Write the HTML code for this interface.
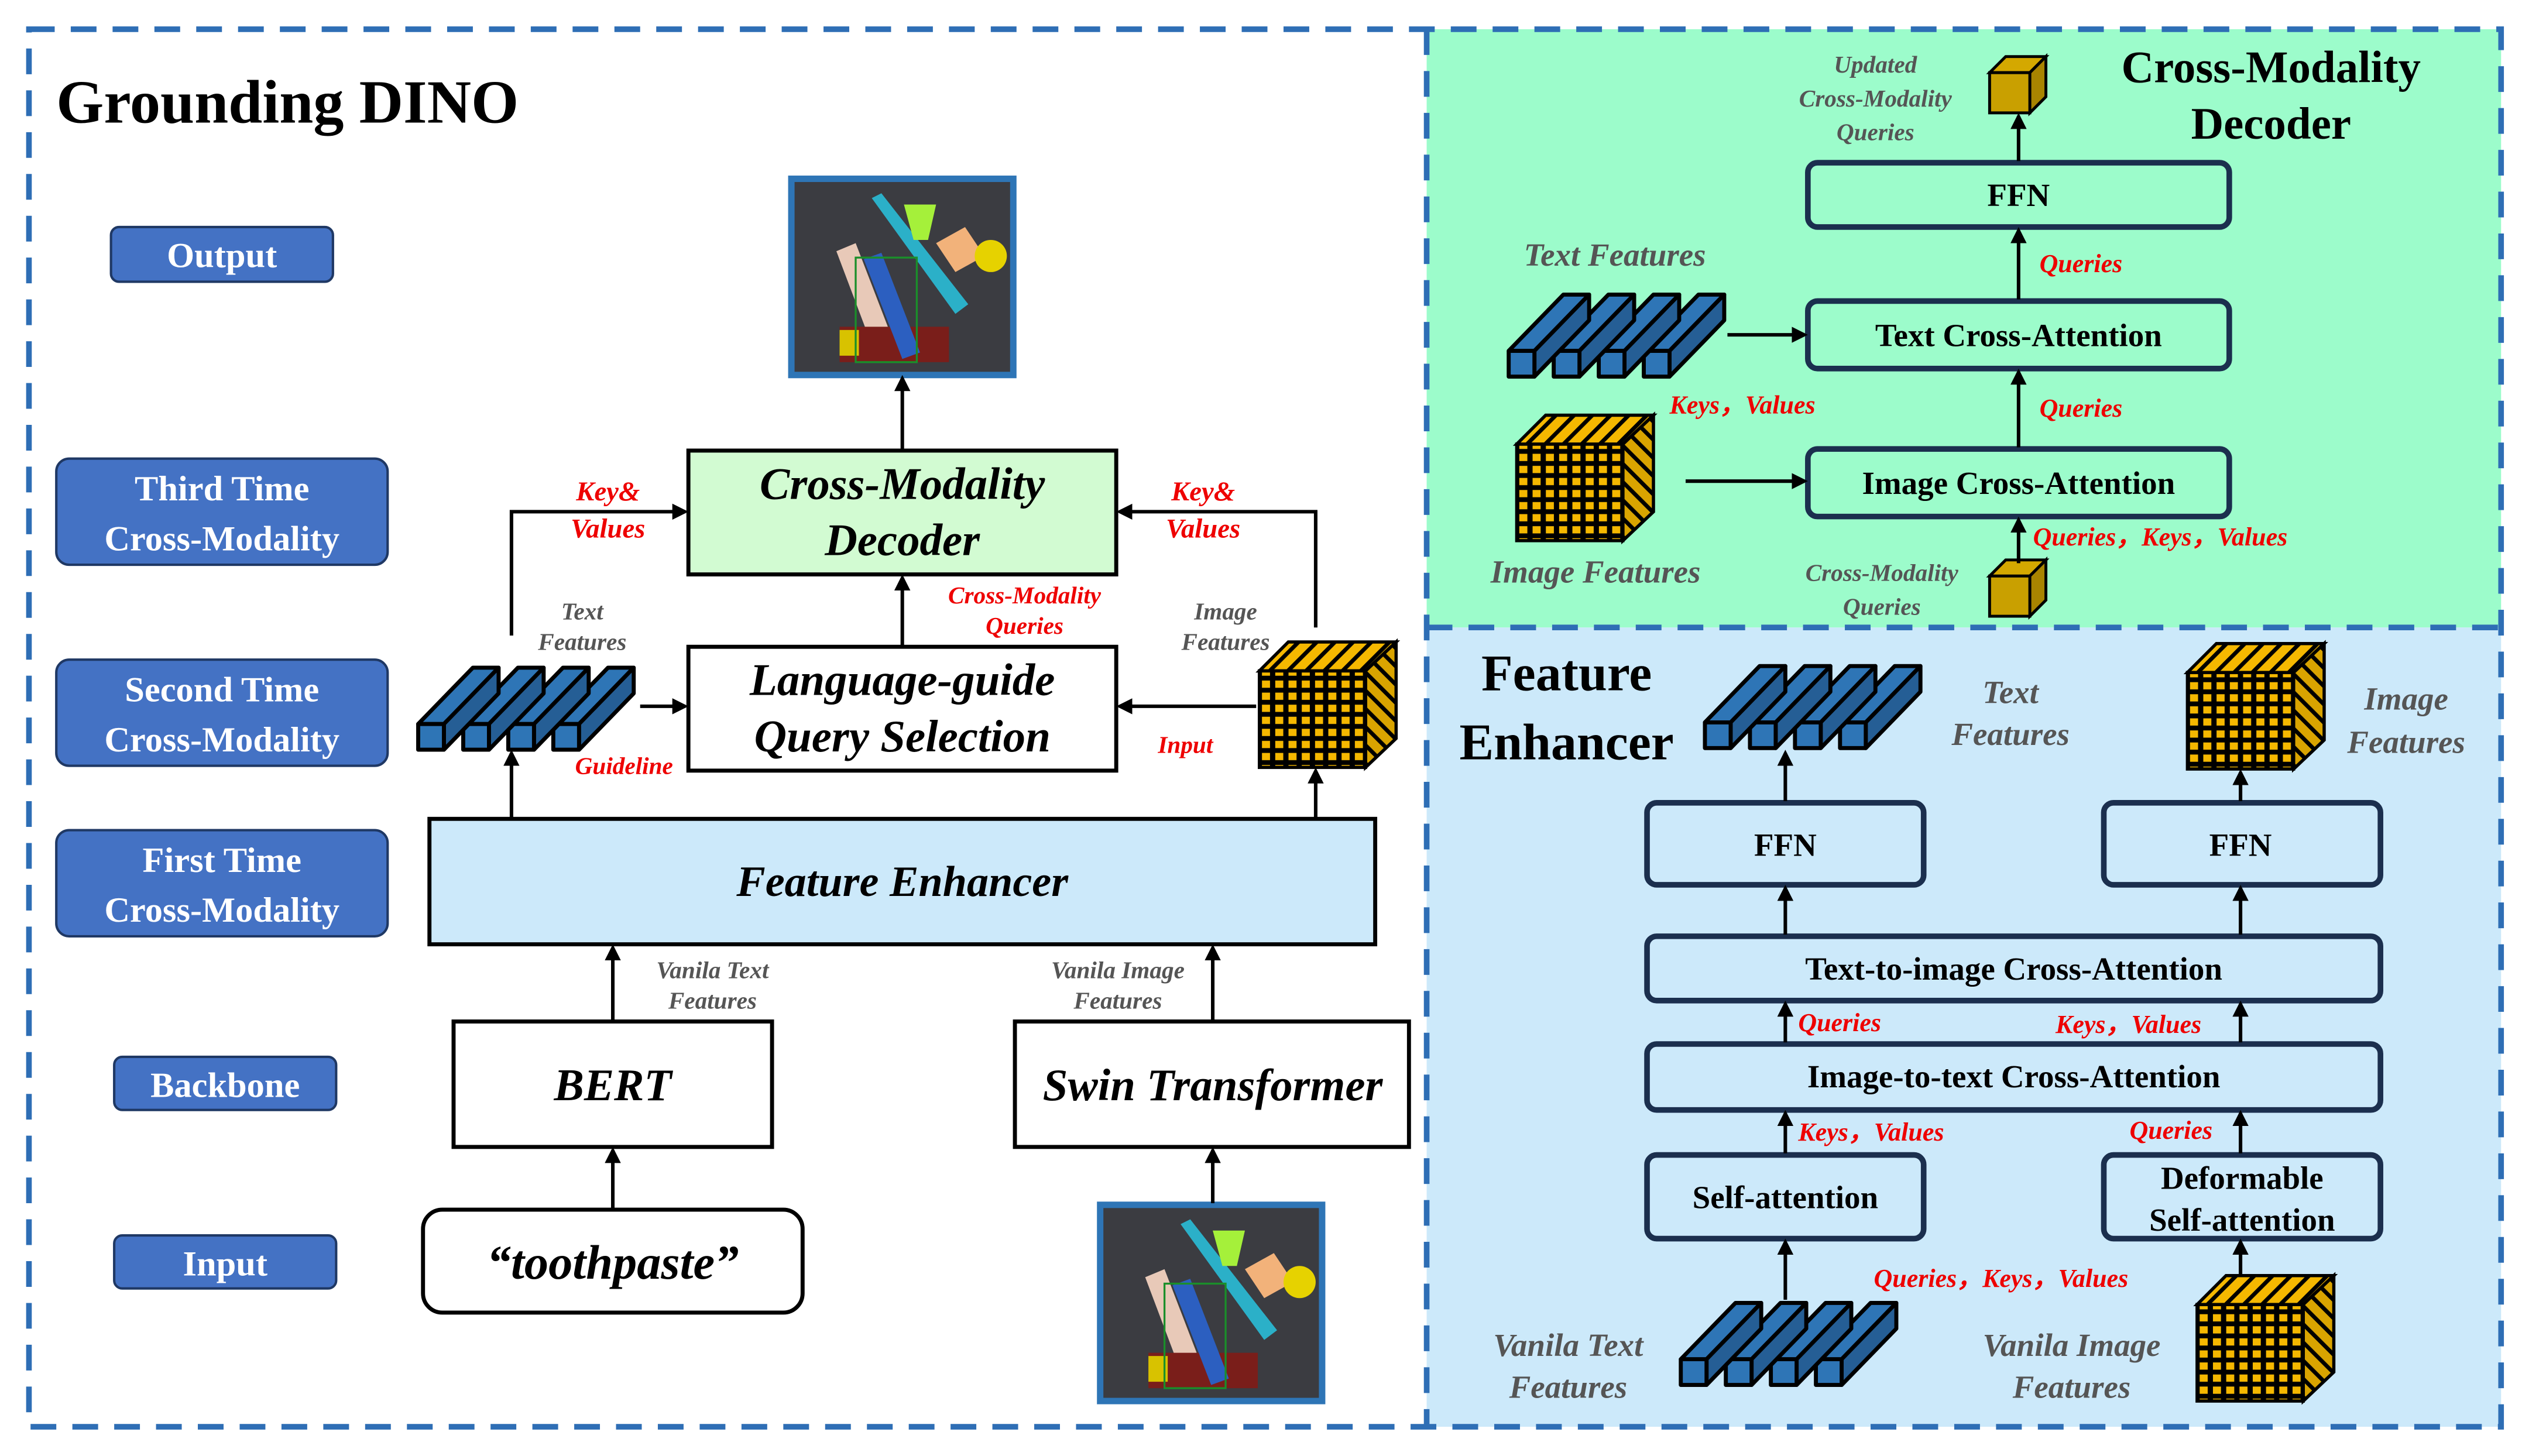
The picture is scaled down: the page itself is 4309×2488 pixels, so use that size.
<!DOCTYPE html>
<html><head><meta charset="utf-8"><style>
html,body{margin:0;padding:0;background:#fff}
svg{display:block}
text{font-family:"Liberation Serif",serif}
</style></head><body>
<svg width="4309" height="2488" viewBox="0 0 1568 905" xmlns="http://www.w3.org/2000/svg">
<defs>
<marker id="ar" markerWidth="10" markerHeight="10" refX="8" refY="5" orient="auto" markerUnits="userSpaceOnUse">
<path d="M0,0 L10,5 L0,10 Z" fill="#000"/></marker>
<pattern id="grid" patternUnits="userSpaceOnUse" width="8.25" height="7.5">
<rect width="8.25" height="7.5" fill="#000"/><rect x="1.6" y="1.5" width="5" height="4.5" fill="#f5b800"/></pattern>
<pattern id="stripe" patternUnits="userSpaceOnUse" width="8" height="8" patternTransform="rotate(45)">
<rect width="8" height="8" fill="#f5b800"/><rect width="2.5" height="8" fill="#000"/></pattern>
<pattern id="stripe2" patternUnits="userSpaceOnUse" width="8" height="8" patternTransform="rotate(-45)">
<rect width="8" height="8" fill="#d9a400"/><rect width="2.5" height="8" fill="#000"/></pattern>
<g id="slab">
<polygon points="0,35 34,0 50,0 16,35" fill="#2e75b6" stroke="#000" stroke-width="2.5" stroke-linejoin="round"/>
<polygon points="16,35 50,0 50,16 16,51" fill="#255e95" stroke="#000" stroke-width="2.5" stroke-linejoin="round"/>
<rect x="0" y="35" width="16" height="16" fill="#2e75b6" stroke="#000" stroke-width="2.5" stroke-linejoin="round"/>
</g>
<g id="txt"><use href="#slab" x="84"/><use href="#slab" x="56"/><use href="#slab" x="28"/><use href="#slab" x="0"/></g>
<g id="cube">
<polygon points="0,18 18,0 85,0 66,18" fill="url(#stripe)" stroke="#000" stroke-width="2"/>
<polygon points="66,18 85,0 85,60 66,78" fill="url(#stripe2)" stroke="#000" stroke-width="2"/>
<rect x="0" y="18" width="66" height="60" fill="url(#grid)" stroke="#000" stroke-width="2"/>
</g>
<g id="scube">
<polygon points="0,10 10,0 35,0 25,10" fill="#d4a800" stroke="#000" stroke-width="1.8"/>
<polygon points="25,10 35,0 35,25 25,35" fill="#a88400" stroke="#000" stroke-width="1.8"/>
<rect x="0" y="10" width="25" height="25" fill="#c9a000" stroke="#000" stroke-width="1.8"/>
</g>
<g id="photo">
<rect x="0" y="0" width="138" height="122" fill="#3b3c41" stroke="#2e75b6" stroke-width="4"/>
<polygon points="28,45 40,40 60,92 48,98" fill="#e8c9b8"/>
<polygon points="50,12 56,9 110,78 102,84" fill="#2bb0c8"/>
<polygon points="70,16 90,16 85,38 76,38" fill="#a5f03a"/>
<polygon points="90,40 108,30 120,48 102,58" fill="#f2b27a"/>
<circle cx="124" cy="48" r="10" fill="#e6d200"/>
<rect x="30" y="92" width="68" height="22" fill="#7a1e1a"/>
<rect x="30" y="94" width="12" height="16" fill="#d8c200"/>
<polygon points="45,50 56,46 80,108 69,112" fill="#2c5fc0"/>
<rect x="40" y="49" width="38" height="65" fill="none" stroke="#1a8f2a" stroke-width="1.2"/>
</g>
</defs>

<!-- panels -->
<rect x="887" y="18" width="668" height="372" fill="#9cfccb"/>
<rect x="887" y="390" width="668" height="497" fill="#cce9fa"/>
<g stroke="#2e6eb5" stroke-width="3.5" stroke-dasharray="16,10" fill="none">
<rect x="18" y="18" width="1537" height="869"/>
<line x1="887" y1="18" x2="887" y2="887"/>
<line x1="887" y1="390" x2="1555" y2="390"/>
</g>

<text x="35" y="76" font-size="38" font-weight="bold">Grounding DINO</text>

<!-- left labels -->
<g fill="#4472c4" stroke="#1f3864" stroke-width="1.5">
<rect x="69" y="141" width="138" height="34" rx="5"/>
<rect x="35" y="285" width="206" height="66" rx="8"/>
<rect x="35" y="410" width="206" height="66" rx="8"/>
<rect x="35" y="516" width="206" height="66" rx="8"/>
<rect x="71" y="657" width="138" height="33" rx="5"/>
<rect x="71" y="768" width="138" height="33" rx="5"/>
</g>
<g fill="#fff" font-size="22" font-weight="bold" text-anchor="middle">
<text x="138" y="166">Output</text>
<text x="138" y="311">Third Time</text><text x="138" y="342">Cross-Modality</text>
<text x="138" y="436">Second Time</text><text x="138" y="467">Cross-Modality</text>
<text x="138" y="542">First Time</text><text x="138" y="573">Cross-Modality</text>
<text x="140" y="682">Backbone</text>
<text x="140" y="793">Input</text>
</g>

<!-- left main -->
<use href="#photo" x="492" y="111"/>
<use href="#photo" x="684" y="749"/>
<g stroke="#000" stroke-width="2.5">
<rect x="428" y="280" width="266" height="77" fill="#d2fbd2"/>
<rect x="428" y="402" width="266" height="77" fill="#fff"/>
<rect x="267" y="509" width="588" height="78" fill="#cce9fa"/>
<rect x="282" y="635" width="198" height="78" fill="#fff"/>
<rect x="631" y="635" width="245" height="78" fill="#fff"/>
<rect x="263" y="752" width="236" height="64" rx="12" fill="#fff"/>
</g>
<g font-style="italic" font-weight="bold" text-anchor="middle" font-size="28">
<text x="561" y="310">Cross-Modality</text><text x="561" y="345">Decoder</text>
<text x="561" y="432">Language-guide</text><text x="561" y="467">Query Selection</text>
<text x="561" y="557" font-size="27">Feature Enhancer</text>
<text x="381" y="684">BERT</text>
<text x="754" y="684">Swin Transformer</text>
<text x="381" y="795" font-size="30">“toothpaste”</text>
</g>
<use href="#txt" x="260" y="415"/>
<use href="#cube" x="783" y="399"/>

<g stroke="#000" stroke-width="2.2" fill="none" marker-end="url(#ar)">
<line x1="561" y1="279" x2="561" y2="235"/>
<line x1="561" y1="401" x2="561" y2="359"/>
<line x1="398" y1="439" x2="426" y2="439"/>
<line x1="781" y1="439" x2="696" y2="439"/>
<polyline points="318,395 318,318 426,318"/>
<polyline points="818,390 818,318 696,318"/>
<line x1="318" y1="509" x2="318" y2="468"/>
<line x1="818" y1="509" x2="818" y2="479"/>
<line x1="381" y1="634" x2="381" y2="589"/>
<line x1="754" y1="634" x2="754" y2="589"/>
<line x1="381" y1="751" x2="381" y2="715"/>
<line x1="754" y1="748" x2="754" y2="715"/>
</g>
<g font-style="italic" font-weight="bold" font-size="15" fill="#e00" text-anchor="middle">
<text x="378" y="311" font-size="17">Key&amp;</text><text x="378" y="334" font-size="17">Values</text>
<text x="748" y="311" font-size="17">Key&amp;</text><text x="748" y="334" font-size="17">Values</text>
<text x="637" y="375">Cross-Modality</text><text x="637" y="394">Queries</text>
<text x="388" y="481">Guideline</text>
<text x="737" y="468">Input</text>
</g>
<g font-style="italic" font-weight="bold" font-size="15" fill="#555" text-anchor="middle">
<text x="362" y="385">Text</text><text x="362" y="404">Features</text>
<text x="762" y="385">Image</text><text x="762" y="404">Features</text>
<text x="443" y="608">Vanila Text</text><text x="443" y="627">Features</text>
<text x="695" y="608">Vanila Image</text><text x="695" y="627">Features</text>
</g>

<!-- right top -->
<text x="1412" y="51" font-size="28" font-weight="bold" text-anchor="middle">Cross-Modality</text>
<text x="1412" y="86" font-size="28" font-weight="bold" text-anchor="middle">Decoder</text>
<g stroke="#1b2f4e" stroke-width="3.5" fill="none">
<rect x="1124" y="101" width="262" height="40" rx="6"/>
<rect x="1124" y="187" width="262" height="42" rx="6"/>
<rect x="1124" y="279" width="262" height="42" rx="6"/>
<rect x="1024" y="499" width="172" height="51" rx="6"/>
<rect x="1308" y="499" width="172" height="51" rx="6"/>
<rect x="1024" y="582" width="456" height="40" rx="6"/>
<rect x="1024" y="649" width="456" height="41" rx="6"/>
<rect x="1024" y="718" width="172" height="52" rx="6"/>
<rect x="1308" y="718" width="172" height="52" rx="6"/>
</g>
<g font-size="20" font-weight="bold" text-anchor="middle">
<text x="1255" y="128">FFN</text>
<text x="1255" y="215">Text Cross-Attention</text>
<text x="1255" y="307">Image Cross-Attention</text>
<text x="1110" y="532">FFN</text>
<text x="1393" y="532">FFN</text>
<text x="1252" y="609">Text-to-image Cross-Attention</text>
<text x="1252" y="676">Image-to-text Cross-Attention</text>
<text x="1110" y="751">Self-attention</text>
<text x="1394" y="739">Deformable</text><text x="1394" y="765">Self-attention</text>
</g>
<use href="#scube" x="1237" y="35"/>
<use href="#scube" x="1237" y="348"/>
<use href="#txt" x="938" y="183"/>
<use href="#cube" x="943" y="258"/>
<use href="#txt" x="1060" y="414"/>
<use href="#cube" x="1360" y="400"/>
<use href="#txt" x="1045" y="810"/>
<use href="#cube" x="1366" y="793"/>

<g stroke="#000" stroke-width="2.2" fill="none" marker-end="url(#ar)">
<line x1="1255" y1="100" x2="1255" y2="72"/>
<line x1="1255" y1="186" x2="1255" y2="143"/>
<line x1="1255" y1="278" x2="1255" y2="231"/>
<line x1="1255" y1="350" x2="1255" y2="323"/>
<line x1="1074" y1="208" x2="1122" y2="208"/>
<line x1="1048" y1="299" x2="1122" y2="299"/>
<line x1="1110" y1="498" x2="1110" y2="468"/>
<line x1="1393" y1="498" x2="1393" y2="480"/>
<line x1="1110" y1="581" x2="1110" y2="552"/>
<line x1="1393" y1="581" x2="1393" y2="552"/>
<line x1="1110" y1="648" x2="1110" y2="624"/>
<line x1="1393" y1="648" x2="1393" y2="624"/>
<line x1="1110" y1="717" x2="1110" y2="692"/>
<line x1="1393" y1="717" x2="1393" y2="692"/>
<line x1="1110" y1="808" x2="1110" y2="772"/>
<line x1="1393" y1="794" x2="1393" y2="772"/>
</g>
<g font-style="italic" font-weight="bold" font-size="16" fill="#e00">
<text x="1268" y="169">Queries</text>
<text x="1268" y="259">Queries</text>
<text x="1264" y="339">Queries，Keys，Values</text>
<text x="1038" y="257">Keys，Values</text>
<text x="1118" y="641">Queries</text>
<text x="1278" y="642">Keys，Values</text>
<text x="1118" y="709">Keys，Values</text>
<text x="1324" y="708">Queries</text>
<text x="1165" y="800">Queries，Keys，Values</text>
</g>
<g font-style="italic" font-weight="bold" fill="#555" text-anchor="middle">
<text x="1166" y="45" font-size="15">Updated</text>
<text x="1166" y="66" font-size="15">Cross-Modality</text>
<text x="1166" y="87" font-size="15">Queries</text>
<text x="1170" y="361" font-size="15">Cross-Modality</text>
<text x="1170" y="382" font-size="15">Queries</text>
<text x="1004" y="165" font-size="20">Text Features</text>
<text x="992" y="362" font-size="20">Image Features</text>
<text x="1250" y="437" font-size="20">Text</text><text x="1250" y="463" font-size="20">Features</text>
<text x="1496" y="441" font-size="20">Image</text><text x="1496" y="468" font-size="20">Features</text>
<text x="975" y="843" font-size="20">Vanila Text</text><text x="975" y="869" font-size="20">Features</text>
<text x="1288" y="843" font-size="20">Vanila Image</text><text x="1288" y="869" font-size="20">Features</text>
</g>
<text x="974" y="429" font-size="32" font-weight="bold" text-anchor="middle">Feature</text>
<text x="974" y="472" font-size="32" font-weight="bold" text-anchor="middle">Enhancer</text>
</svg>
</body></html>
